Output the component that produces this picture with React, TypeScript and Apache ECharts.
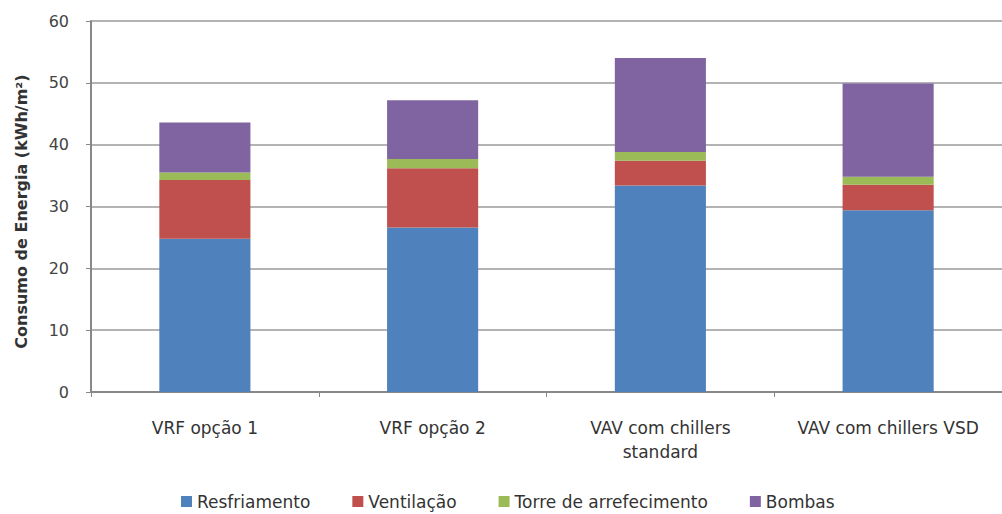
import React, { useEffect, useRef } from "react";
import * as echarts from "echarts";

const categories = ["VRF opção 1", "VRF opção 2", "VAV com chillers\nstandard", "VAV com chillers VSD"];
const resfriamento = [24.8, 26.6, 33.4, 29.4];
const ventilacao = [9.5, 9.6, 4.0, 4.1];
const torre = [1.2, 1.5, 1.4, 1.3];
const bombas = [8.1, 9.5, 15.2, 15.1];
const yTicks = [0, 10, 20, 30, 40, 50, 60];

const FONT = "'DejaVu Sans', 'Noto Sans', sans-serif";

export default function App() {
  const ref = useRef<HTMLDivElement>(null);
  useEffect(() => {
    if (!ref.current) return;
    const chart = echarts.init(ref.current, undefined, { renderer: "svg" });
    const mk = (name: string, data: number[], color: string) => ({
      name,
      type: "bar",
      stack: "total",
      data,
      barWidth: "40%",
      itemStyle: { color },
    });
    chart.setOption({
      animation: false,
      backgroundColor: "#ffffff",
      textStyle: { fontFamily: FONT },
      grid: { left: 91, top: 21, width: 917, height: 371 },
      legend: {
        left: 176,
        top: 488,
        itemWidth: 11,
        itemHeight: 11,
        itemGap: 42,
        icon: "rect",
        textStyle: { fontSize: 17, lineHeight: 17, color: "#333", fontFamily: FONT },
        data: ["Resfriamento", "Ventilação", "Torre de arrefecimento", "Bombas"],
      },
      xAxis: {
        type: "category",
        data: categories,
        axisLine: { lineStyle: { color: "#888", width: 2 } },
        axisTick: { show: true, alignWithLabel: false, length: 5, lineStyle: { color: "#888" } },
        axisLabel: {
          margin: 24,
          fontSize: 17,
          lineHeight: 24,
          color: "#333",
          fontFamily: FONT,
          interval: 0,
        },
      },
      yAxis: {
        type: "value",
        min: yTicks[0],
        max: yTicks[yTicks.length - 1],
        interval: 10,
        name: "Consumo de Energia (kWh/m²)",
        nameLocation: "middle",
        nameGap: 62,
        nameTextStyle: {
          fontSize: 16,
          fontWeight: "bold",
          color: "#333",
          fontFamily: FONT,
          padding: [0, 10, 0, 0],
        },
        axisLine: { show: true, lineStyle: { color: "#888", width: 2 } },
        axisTick: { show: true, length: 5, lineStyle: { color: "#888" } },
        axisLabel: { margin: 22, fontSize: 16, color: "#444", fontFamily: FONT },
        splitLine: { lineStyle: { color: "#9a9a9a", width: 1.5 } },
      },
      series: [
        mk("Resfriamento", resfriamento, "#4F81BD"),
        mk("Ventilação", ventilacao, "#C0504D"),
        mk("Torre de arrefecimento", torre, "#9BBB59"),
        mk("Bombas", bombas, "#8064A2"),
      ],
    });
    return () => chart.dispose();
  }, []);
  return (
    <div
      ref={ref}
      style={{ position: "fixed", left: 0, top: 0, width: 1002, height: 514, background: "#fff" }}
    />
  );
}
